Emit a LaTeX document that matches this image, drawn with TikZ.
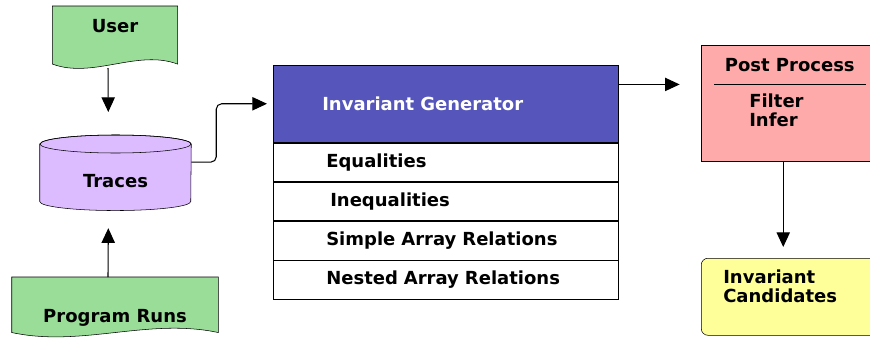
\documentclass[tikz,border=0pt]{standalone}
\usepackage{fontspec}
\setmainfont{DejaVu Sans}
\usetikzlibrary{arrows.meta,positioning,backgrounds}

\definecolor{docgreen}{RGB}{153, 221, 153}
\definecolor{tracepurple}{RGB}{221, 187, 255}
\definecolor{genblue}{RGB}{85, 85, 187}
\definecolor{postpink}{RGB}{255, 170, 170}
\definecolor{candyellow}{RGB}{255, 255, 153}

% document outline with a wavy bottom edge behind node #1
\newcommand{\docshape}[2]{%
  \begin{pgfonlayer}{background}
    \draw[fill=docgreen] (#1.south east) -- (#1.north east) -- (#1.north west) -- (#1.south west)
      .. controls +(#2,-15) and +(-#2,15) .. (#1.south east) -- cycle;
  \end{pgfonlayer}}

\tikzset{
  docbox/.style={inner sep=0pt, anchor=north},
  genhead/.style={draw, fill=genblue, text=white, text width=185.25pt, inner xsep=36.75pt,
    minimum height=57.75pt, align=left},
  relation/.style={draw, fill=white, text width=179.25pt, inner xsep=39.75pt,
    minimum height=29pt, align=left},
  flow/.style={line width=0.8pt, -{Triangle[length=11pt,width=10pt]}}
}

\begin{document}
\begin{tikzpicture}[x=0.75pt, y=0.75pt, line width=0.8pt,
  font=\fontsize{13.5}{14.25}\selectfont\bfseries]
\useasboundingbox (0,0) rectangle (870,337);
\clip (0,0) rectangle (870,337);

% inputs
\node[docbox, minimum width=93pt, text height=19.5pt, text depth=23.25pt] (user) at (115,331) {User};
\docshape{user}{40}
\node[docbox, minimum width=154.5pt, text height=33.75pt, text depth=7.5pt] (runs) at (115,60) {Program Runs};
\docshape{runs}{70}

% trace store
\node[inner sep=0pt, anchor=north, minimum width=113.25pt, text height=32.25pt, text depth=10.5pt] (traces) at (115.5,193) {Traces};
\begin{pgfonlayer}{background}
  \draw[fill=tracepurple] (traces.north west) -- (traces.south west)
    arc[start angle=180, end angle=360, x radius=56.625pt, y radius=6.75pt] -- (traces.north east)
    arc[start angle=0, end angle=180, x radius=56.625pt, y radius=6.75pt] -- cycle;
  \draw (traces.north) ellipse[x radius=56.625pt, y radius=6.75pt];
\end{pgfonlayer}

% generator with its relation kinds
\node[genhead, anchor=north west] (gen) at (273,272) {Invariant Generator};
\node[relation, below=0pt of gen] (eq) {Equalities};
\node[relation, below=0pt of eq] (ineq) {\hspace*{3pt}Inequalities};
\node[relation, below=0pt of ineq] (simple) {Simple Array Relations};
\node[relation, below=0pt of simple] (nested) {Nested Array Relations};

% post processing
\node[draw, fill=postpink, anchor=north west, minimum width=132.75pt, minimum height=87pt] (post) at (701,292) {};
\node (posttitle) at ([yshift=-15pt]post.north) {Post Process};
\draw ([xshift=9.75pt,yshift=-29.25pt]post.north west) -- ([xshift=-9.75pt,yshift=-29.25pt]post.north east);
\node[inner sep=0pt, anchor=north west, align=left] (poststeps) at ([shift={(36pt,-36.75pt)}]post.north west) {Filter\\Infer};

% result
\node[draw, fill=candyellow, rounded corners=5pt, anchor=north west, minimum width=132.75pt, minimum height=57.75pt] (cand) at (701,79) {};
\node[inner sep=0pt, anchor=north west, align=left] (candtext) at ([shift={(16.5pt,-9pt)}]cand.north west) {Invariant\\Candidates};

% connectors
\draw[flow, shorten <=3pt, shorten >=24pt] ([xshift=-5.25pt]user.south) -- ([xshift=-5.25pt]traces.north);
\draw[flow, shorten >=20pt] ([xshift=-5.25pt]runs.north) -- ([xshift=-5.25pt]traces.south);
\draw[flow, rounded corners=4pt, shorten >=4.5pt] ([yshift=8pt]traces.east) -- ++(18.75pt,0) |- (gen.west);
\draw[flow, shorten >=16pt] ([yshift=14.5pt]gen.east) -- ([yshift=14.5pt]gen.east -| post.west);
\draw[flow, shorten >=8.25pt] ([xshift=-4.9pt]post.south) -- ([xshift=-4.9pt]post.south |- cand.north);
\end{tikzpicture}
\end{document}
